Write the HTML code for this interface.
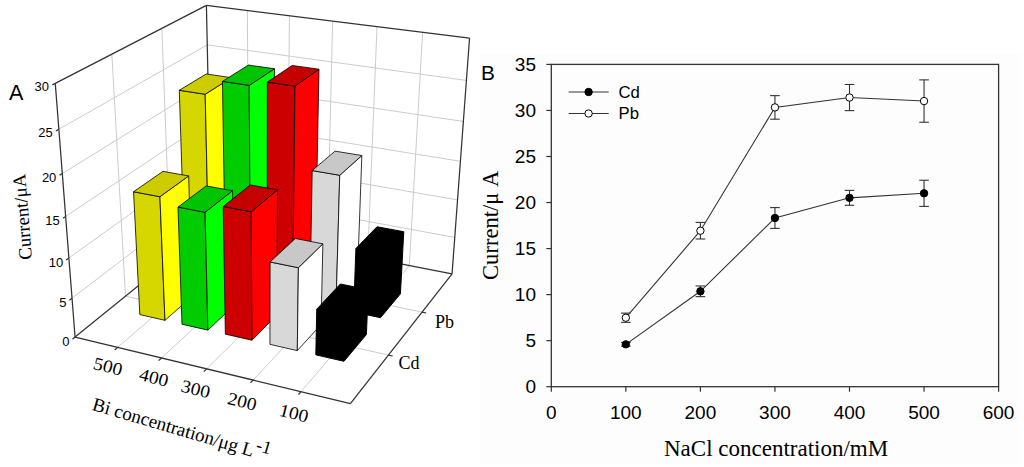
<!DOCTYPE html>
<html><head><meta charset="utf-8"><style>html,body{margin:0;padding:0;background:#fff;overflow:hidden}svg{display:block}text{fill:#000}</style></head>
<body><svg width="1024" height="467" viewBox="0 0 1024 467">
<rect width="1024" height="467" fill="#fff"/>
<rect x="479.4" y="53.5" width="540.4" height="409.8" fill="#fdfdfd"/>
<rect x="551.3" y="64.4" width="447.30" height="322.30" fill="none" stroke="#333" stroke-width="1.3"/>
<line x1="546.30" y1="386.70" x2="551.30" y2="386.70" stroke="#333" stroke-width="1.2"/>
<text x="536" y="386.70" font-family="Liberation Sans, sans-serif" font-size="19" text-anchor="end" dominant-baseline="central">0</text>
<line x1="546.30" y1="340.66" x2="551.30" y2="340.66" stroke="#333" stroke-width="1.2"/>
<text x="536" y="340.66" font-family="Liberation Sans, sans-serif" font-size="19" text-anchor="end" dominant-baseline="central">5</text>
<line x1="546.30" y1="294.61" x2="551.30" y2="294.61" stroke="#333" stroke-width="1.2"/>
<text x="536" y="294.61" font-family="Liberation Sans, sans-serif" font-size="19" text-anchor="end" dominant-baseline="central">10</text>
<line x1="546.30" y1="248.57" x2="551.30" y2="248.57" stroke="#333" stroke-width="1.2"/>
<text x="536" y="248.57" font-family="Liberation Sans, sans-serif" font-size="19" text-anchor="end" dominant-baseline="central">15</text>
<line x1="546.30" y1="202.53" x2="551.30" y2="202.53" stroke="#333" stroke-width="1.2"/>
<text x="536" y="202.53" font-family="Liberation Sans, sans-serif" font-size="19" text-anchor="end" dominant-baseline="central">20</text>
<line x1="546.30" y1="156.49" x2="551.30" y2="156.49" stroke="#333" stroke-width="1.2"/>
<text x="536" y="156.49" font-family="Liberation Sans, sans-serif" font-size="19" text-anchor="end" dominant-baseline="central">25</text>
<line x1="546.30" y1="110.44" x2="551.30" y2="110.44" stroke="#333" stroke-width="1.2"/>
<text x="536" y="110.44" font-family="Liberation Sans, sans-serif" font-size="19" text-anchor="end" dominant-baseline="central">30</text>
<line x1="546.30" y1="64.40" x2="551.30" y2="64.40" stroke="#333" stroke-width="1.2"/>
<text x="536" y="64.40" font-family="Liberation Sans, sans-serif" font-size="19" text-anchor="end" dominant-baseline="central">35</text>
<line x1="551.30" y1="386.70" x2="551.30" y2="391.70" stroke="#333" stroke-width="1.2"/>
<text x="551.30" y="419.3" font-family="Liberation Sans, sans-serif" font-size="19" text-anchor="middle">0</text>
<line x1="625.85" y1="386.70" x2="625.85" y2="391.70" stroke="#333" stroke-width="1.2"/>
<text x="625.85" y="419.3" font-family="Liberation Sans, sans-serif" font-size="19" text-anchor="middle">100</text>
<line x1="700.40" y1="386.70" x2="700.40" y2="391.70" stroke="#333" stroke-width="1.2"/>
<text x="700.40" y="419.3" font-family="Liberation Sans, sans-serif" font-size="19" text-anchor="middle">200</text>
<line x1="774.95" y1="386.70" x2="774.95" y2="391.70" stroke="#333" stroke-width="1.2"/>
<text x="774.95" y="419.3" font-family="Liberation Sans, sans-serif" font-size="19" text-anchor="middle">300</text>
<line x1="849.50" y1="386.70" x2="849.50" y2="391.70" stroke="#333" stroke-width="1.2"/>
<text x="849.50" y="419.3" font-family="Liberation Sans, sans-serif" font-size="19" text-anchor="middle">400</text>
<line x1="924.05" y1="386.70" x2="924.05" y2="391.70" stroke="#333" stroke-width="1.2"/>
<text x="924.05" y="419.3" font-family="Liberation Sans, sans-serif" font-size="19" text-anchor="middle">500</text>
<line x1="998.60" y1="386.70" x2="998.60" y2="391.70" stroke="#333" stroke-width="1.2"/>
<text x="998.60" y="419.3" font-family="Liberation Sans, sans-serif" font-size="19" text-anchor="middle">600</text>
<polyline points="625.85,344.34 700.40,291.30 774.95,218.00 849.50,197.83 924.05,193.32" fill="none" stroke="#333" stroke-width="1.1"/>
<polyline points="625.85,317.73 700.40,230.71 774.95,107.40 849.50,97.55 924.05,101.05" fill="none" stroke="#333" stroke-width="1.1"/>
<line x1="625.85" y1="342.50" x2="625.85" y2="346.18" stroke="#333" stroke-width="1.1"/>
<line x1="621.05" y1="342.50" x2="630.65" y2="342.50" stroke="#333" stroke-width="1.1"/>
<line x1="621.05" y1="346.18" x2="630.65" y2="346.18" stroke="#333" stroke-width="1.1"/>
<circle cx="625.85" cy="344.34" r="3.7" fill="#000" stroke="#000" stroke-width="1"/>
<line x1="700.40" y1="285.96" x2="700.40" y2="296.64" stroke="#333" stroke-width="1.1"/>
<line x1="695.60" y1="285.96" x2="705.20" y2="285.96" stroke="#333" stroke-width="1.1"/>
<line x1="695.60" y1="296.64" x2="705.20" y2="296.64" stroke="#333" stroke-width="1.1"/>
<circle cx="700.40" cy="291.30" r="3.7" fill="#000" stroke="#000" stroke-width="1"/>
<line x1="774.95" y1="207.59" x2="774.95" y2="228.40" stroke="#333" stroke-width="1.1"/>
<line x1="770.15" y1="207.59" x2="779.75" y2="207.59" stroke="#333" stroke-width="1.1"/>
<line x1="770.15" y1="228.40" x2="779.75" y2="228.40" stroke="#333" stroke-width="1.1"/>
<circle cx="774.95" cy="218.00" r="3.7" fill="#000" stroke="#000" stroke-width="1"/>
<line x1="849.50" y1="190.37" x2="849.50" y2="205.29" stroke="#333" stroke-width="1.1"/>
<line x1="844.70" y1="190.37" x2="854.30" y2="190.37" stroke="#333" stroke-width="1.1"/>
<line x1="844.70" y1="205.29" x2="854.30" y2="205.29" stroke="#333" stroke-width="1.1"/>
<circle cx="849.50" cy="197.83" r="3.7" fill="#000" stroke="#000" stroke-width="1"/>
<line x1="924.05" y1="180.24" x2="924.05" y2="206.40" stroke="#333" stroke-width="1.1"/>
<line x1="919.25" y1="180.24" x2="928.85" y2="180.24" stroke="#333" stroke-width="1.1"/>
<line x1="919.25" y1="206.40" x2="928.85" y2="206.40" stroke="#333" stroke-width="1.1"/>
<circle cx="924.05" cy="193.32" r="3.7" fill="#000" stroke="#000" stroke-width="1"/>
<line x1="625.85" y1="313.12" x2="625.85" y2="322.33" stroke="#333" stroke-width="1.1"/>
<line x1="621.05" y1="313.12" x2="630.65" y2="313.12" stroke="#333" stroke-width="1.1"/>
<line x1="621.05" y1="322.33" x2="630.65" y2="322.33" stroke="#333" stroke-width="1.1"/>
<circle cx="625.85" cy="317.73" r="3.7" fill="#fff" stroke="#000" stroke-width="1"/>
<line x1="700.40" y1="222.42" x2="700.40" y2="238.99" stroke="#333" stroke-width="1.1"/>
<line x1="695.60" y1="222.42" x2="705.20" y2="222.42" stroke="#333" stroke-width="1.1"/>
<line x1="695.60" y1="238.99" x2="705.20" y2="238.99" stroke="#333" stroke-width="1.1"/>
<circle cx="700.40" cy="230.71" r="3.7" fill="#fff" stroke="#000" stroke-width="1"/>
<line x1="774.95" y1="95.62" x2="774.95" y2="119.19" stroke="#333" stroke-width="1.1"/>
<line x1="770.15" y1="95.62" x2="779.75" y2="95.62" stroke="#333" stroke-width="1.1"/>
<line x1="770.15" y1="119.19" x2="779.75" y2="119.19" stroke="#333" stroke-width="1.1"/>
<circle cx="774.95" cy="107.40" r="3.7" fill="#fff" stroke="#000" stroke-width="1"/>
<line x1="849.50" y1="84.47" x2="849.50" y2="110.63" stroke="#333" stroke-width="1.1"/>
<line x1="844.70" y1="84.47" x2="854.30" y2="84.47" stroke="#333" stroke-width="1.1"/>
<line x1="844.70" y1="110.63" x2="854.30" y2="110.63" stroke="#333" stroke-width="1.1"/>
<circle cx="849.50" cy="97.55" r="3.7" fill="#fff" stroke="#000" stroke-width="1"/>
<line x1="924.05" y1="79.87" x2="924.05" y2="122.23" stroke="#333" stroke-width="1.1"/>
<line x1="919.25" y1="79.87" x2="928.85" y2="79.87" stroke="#333" stroke-width="1.1"/>
<line x1="919.25" y1="122.23" x2="928.85" y2="122.23" stroke="#333" stroke-width="1.1"/>
<circle cx="924.05" cy="101.05" r="3.7" fill="#fff" stroke="#000" stroke-width="1"/>
<line x1="568.70" y1="92.00" x2="608.70" y2="92.00" stroke="#333" stroke-width="1.1"/>
<circle cx="588.6" cy="92.0" r="3.7" fill="#000" stroke="#000" stroke-width="1"/>
<text x="618.5" y="92.0" font-family="Liberation Sans, sans-serif" font-size="16.7" dominant-baseline="central">Cd</text>
<line x1="568.70" y1="113.50" x2="608.70" y2="113.50" stroke="#333" stroke-width="1.1"/>
<circle cx="588.6" cy="113.5" r="3.7" fill="#fff" stroke="#000" stroke-width="1"/>
<text x="618.5" y="113.5" font-family="Liberation Sans, sans-serif" font-size="16.7" dominant-baseline="central">Pb</text>
<text x="481" y="80" font-family="Liberation Sans, sans-serif" font-size="20.8">B</text>
<text x="0" y="0" font-family="Liberation Serif, serif" font-size="22.6" text-anchor="middle" transform="translate(498 225.3) rotate(-90)">Current/μ A</text>
<text x="664" y="455.8" font-family="Liberation Serif, serif" font-size="23">NaCl concentration/mM</text>
<line x1="248.86" y1="234.19" x2="247.36" y2="10.43" stroke="#c8c8c8" stroke-width="0.95"/>
<line x1="287.50" y1="241.74" x2="289.43" y2="15.67" stroke="#c8c8c8" stroke-width="0.95"/>
<line x1="327.10" y1="249.48" x2="332.63" y2="21.04" stroke="#c8c8c8" stroke-width="0.95"/>
<line x1="367.70" y1="257.41" x2="377.02" y2="26.56" stroke="#c8c8c8" stroke-width="0.95"/>
<line x1="409.34" y1="265.55" x2="422.64" y2="32.24" stroke="#c8c8c8" stroke-width="0.95"/>
<line x1="210.40" y1="192.39" x2="454.76" y2="237.45" stroke="#c8c8c8" stroke-width="0.95"/>
<line x1="209.64" y1="157.02" x2="457.54" y2="199.92" stroke="#c8c8c8" stroke-width="0.95"/>
<line x1="208.87" y1="120.68" x2="460.41" y2="161.28" stroke="#c8c8c8" stroke-width="0.95"/>
<line x1="208.07" y1="83.31" x2="463.37" y2="121.46" stroke="#c8c8c8" stroke-width="0.95"/>
<line x1="207.24" y1="44.88" x2="466.41" y2="80.41" stroke="#c8c8c8" stroke-width="0.95"/>
<line x1="125.51" y1="296.19" x2="111.85" y2="54.15" stroke="#c8c8c8" stroke-width="0.95"/>
<line x1="170.60" y1="259.66" x2="161.87" y2="28.33" stroke="#c8c8c8" stroke-width="0.95"/>
<line x1="72.02" y1="298.16" x2="210.40" y2="192.39" stroke="#c8c8c8" stroke-width="0.95"/>
<line x1="68.88" y1="257.98" x2="209.64" y2="157.02" stroke="#c8c8c8" stroke-width="0.95"/>
<line x1="65.65" y1="216.48" x2="208.87" y2="120.68" stroke="#c8c8c8" stroke-width="0.95"/>
<line x1="62.30" y1="173.59" x2="208.07" y2="83.31" stroke="#c8c8c8" stroke-width="0.95"/>
<line x1="58.84" y1="129.25" x2="207.24" y2="44.88" stroke="#c8c8c8" stroke-width="0.95"/>
<line x1="117.66" y1="347.36" x2="248.86" y2="234.19" stroke="#c8c8c8" stroke-width="0.95"/>
<line x1="161.50" y1="357.94" x2="287.50" y2="241.74" stroke="#c8c8c8" stroke-width="0.95"/>
<line x1="206.63" y1="368.84" x2="327.10" y2="249.48" stroke="#c8c8c8" stroke-width="0.95"/>
<line x1="253.11" y1="380.06" x2="367.70" y2="257.41" stroke="#c8c8c8" stroke-width="0.95"/>
<line x1="301.01" y1="391.62" x2="409.34" y2="265.55" stroke="#c8c8c8" stroke-width="0.95"/>
<line x1="125.51" y1="296.19" x2="388.41" y2="355.05" stroke="#c8c8c8" stroke-width="0.95"/>
<line x1="170.60" y1="259.66" x2="422.06" y2="312.14" stroke="#c8c8c8" stroke-width="0.95"/>
<line x1="75.06" y1="337.07" x2="55.26" y2="83.37" stroke="#333" stroke-width="1.25"/>
<line x1="55.26" y1="83.37" x2="206.40" y2="5.34" stroke="#333" stroke-width="1.25"/>
<line x1="211.14" y1="226.82" x2="206.40" y2="5.34" stroke="#333" stroke-width="1.25"/>
<line x1="75.06" y1="337.07" x2="211.14" y2="226.82" stroke="#333" stroke-width="1.25"/>
<line x1="206.40" y1="5.34" x2="469.56" y2="38.07" stroke="#333" stroke-width="1.25"/>
<line x1="452.05" y1="273.90" x2="469.56" y2="38.07" stroke="#333" stroke-width="1.25"/>
<line x1="211.14" y1="226.82" x2="452.05" y2="273.90" stroke="#333" stroke-width="1.25"/>
<line x1="75.06" y1="337.07" x2="350.38" y2="403.54" stroke="#333" stroke-width="1.25"/>
<line x1="350.38" y1="403.54" x2="452.05" y2="273.90" stroke="#333" stroke-width="1.25"/>
<line x1="75.06" y1="337.07" x2="72.48" y2="339.16" stroke="#333" stroke-width="1.25"/>
<line x1="72.02" y1="298.16" x2="69.40" y2="300.16" stroke="#333" stroke-width="1.25"/>
<line x1="68.88" y1="257.98" x2="66.21" y2="259.90" stroke="#333" stroke-width="1.25"/>
<line x1="65.65" y1="216.48" x2="62.92" y2="218.31" stroke="#333" stroke-width="1.25"/>
<line x1="62.30" y1="173.59" x2="59.52" y2="175.32" stroke="#333" stroke-width="1.25"/>
<line x1="58.84" y1="129.25" x2="56.00" y2="130.87" stroke="#333" stroke-width="1.25"/>
<line x1="55.26" y1="83.37" x2="52.36" y2="84.87" stroke="#333" stroke-width="1.25"/>
<line x1="117.66" y1="347.36" x2="114.67" y2="349.93" stroke="#333" stroke-width="1.25"/>
<line x1="161.50" y1="357.94" x2="158.62" y2="360.59" stroke="#333" stroke-width="1.25"/>
<line x1="206.63" y1="368.84" x2="203.87" y2="371.57" stroke="#333" stroke-width="1.25"/>
<line x1="253.11" y1="380.06" x2="250.48" y2="382.87" stroke="#333" stroke-width="1.25"/>
<line x1="301.01" y1="391.62" x2="298.52" y2="394.52" stroke="#333" stroke-width="1.25"/>
<line x1="388.41" y1="355.05" x2="392.70" y2="356.01" stroke="#333" stroke-width="1.25"/>
<line x1="422.06" y1="312.14" x2="426.15" y2="312.99" stroke="#333" stroke-width="1.25"/>
<polygon points="185.28,276.10 209.41,281.24 205.19,94.26 179.30,90.29" fill="#d6d600" stroke="#000" stroke-width="0.8" stroke-linejoin="round"/>
<polygon points="209.41,281.24 233.80,259.79 231.48,77.66 205.19,94.26" fill="#ffff00" stroke="#000" stroke-width="0.8" stroke-linejoin="round"/>
<polygon points="179.30,90.29 205.19,94.26 231.48,77.66 206.26,73.96" fill="#cccc00" stroke="#000" stroke-width="0.8" stroke-linejoin="round"/>
<polygon points="225.71,284.72 250.48,289.99 249.22,85.36 222.44,81.39" fill="#00cc00" stroke="#000" stroke-width="0.8" stroke-linejoin="round"/>
<polygon points="250.48,289.99 273.85,267.99 274.49,68.75 249.22,85.36" fill="#00ff00" stroke="#000" stroke-width="0.8" stroke-linejoin="round"/>
<polygon points="222.44,81.39 249.22,85.36 274.49,68.75 248.43,65.06" fill="#00c400" stroke="#000" stroke-width="0.8" stroke-linejoin="round"/>
<polygon points="267.22,293.56 292.66,298.98 294.96,86.14 267.34,82.10" fill="#cc0000" stroke="#000" stroke-width="0.8" stroke-linejoin="round"/>
<polygon points="292.66,298.98 314.95,276.39 319.01,69.23 294.96,86.14" fill="#ff0000" stroke="#000" stroke-width="0.8" stroke-linejoin="round"/>
<polygon points="267.34,82.10 294.96,86.14 319.01,69.23 292.16,65.47" fill="#c40000" stroke="#000" stroke-width="0.8" stroke-linejoin="round"/>
<polygon points="309.85,302.64 335.98,308.21 339.74,175.29 312.19,170.56" fill="#d8d8d8" stroke="#000" stroke-width="0.8" stroke-linejoin="round"/>
<polygon points="335.98,308.21 357.12,285.02 361.85,155.54 339.74,175.29" fill="#ffffff" stroke="#000" stroke-width="0.8" stroke-linejoin="round"/>
<polygon points="312.19,170.56 339.74,175.29 361.85,155.54 335.07,151.13" fill="#c8c8c8" stroke="#000" stroke-width="0.8" stroke-linejoin="round"/>
<polygon points="353.63,311.97 380.49,317.69 400.42,293.87 403.78,231.72 376.99,226.75 355.89,248.60" fill="#000" stroke="#000" stroke-width="1.0" stroke-linejoin="round"/>
<polygon points="139.82,314.57 164.98,320.33 159.92,196.74 133.55,191.76" fill="#d6d600" stroke="#000" stroke-width="0.8" stroke-linejoin="round"/>
<polygon points="164.98,320.33 192.24,296.35 188.67,175.98 159.92,196.74" fill="#ffff00" stroke="#000" stroke-width="0.8" stroke-linejoin="round"/>
<polygon points="133.55,191.76 159.92,196.74 188.67,175.98 162.99,171.34" fill="#cccc00" stroke="#000" stroke-width="0.8" stroke-linejoin="round"/>
<polygon points="181.99,324.22 207.86,330.14 205.07,212.28 177.99,207.11" fill="#00cc00" stroke="#000" stroke-width="0.8" stroke-linejoin="round"/>
<polygon points="207.86,330.14 234.02,305.50 232.54,190.72 205.07,212.28" fill="#00ff00" stroke="#000" stroke-width="0.8" stroke-linejoin="round"/>
<polygon points="177.99,207.11 205.07,212.28 232.54,190.72 206.19,185.91" fill="#00c400" stroke="#000" stroke-width="0.8" stroke-linejoin="round"/>
<polygon points="225.35,334.14 251.95,340.23 251.22,211.77 223.23,206.51" fill="#cc0000" stroke="#000" stroke-width="0.8" stroke-linejoin="round"/>
<polygon points="251.95,340.23 276.94,314.91 277.50,189.85 251.22,211.77" fill="#ff0000" stroke="#000" stroke-width="0.8" stroke-linejoin="round"/>
<polygon points="223.23,206.51 251.22,211.77 277.50,189.85 250.30,184.96" fill="#c40000" stroke="#000" stroke-width="0.8" stroke-linejoin="round"/>
<polygon points="269.94,344.35 297.31,350.61 298.38,267.72 270.08,261.98" fill="#d8d8d8" stroke="#000" stroke-width="0.8" stroke-linejoin="round"/>
<polygon points="297.31,350.61 321.05,324.57 322.87,243.83 298.38,267.72" fill="#ffffff" stroke="#000" stroke-width="0.8" stroke-linejoin="round"/>
<polygon points="270.08,261.98 298.38,267.72 322.87,243.83 295.37,238.50" fill="#c8c8c8" stroke="#000" stroke-width="0.8" stroke-linejoin="round"/>
<polygon points="315.82,354.85 344.00,361.30 366.41,334.51 368.25,289.72 340.37,283.99 316.76,309.16" fill="#000" stroke="#000" stroke-width="1.0" stroke-linejoin="round"/>
<text x="69.57" y="341.52" font-family="Liberation Sans, sans-serif" font-size="13" text-anchor="end" dominant-baseline="central">0</text>
<text x="66.43" y="302.43" font-family="Liberation Sans, sans-serif" font-size="13" text-anchor="end" dominant-baseline="central">5</text>
<text x="63.18" y="262.07" font-family="Liberation Sans, sans-serif" font-size="13" text-anchor="end" dominant-baseline="central">10</text>
<text x="59.83" y="220.37" font-family="Liberation Sans, sans-serif" font-size="13" text-anchor="end" dominant-baseline="central">15</text>
<text x="56.36" y="177.27" font-family="Liberation Sans, sans-serif" font-size="13" text-anchor="end" dominant-baseline="central">20</text>
<text x="52.78" y="132.70" font-family="Liberation Sans, sans-serif" font-size="13" text-anchor="end" dominant-baseline="central">25</text>
<text x="49.07" y="86.57" font-family="Liberation Sans, sans-serif" font-size="13" text-anchor="end" dominant-baseline="central">30</text>
<text x="108" y="366.2" font-family="Liberation Serif, serif" font-size="19.5" text-anchor="middle" dominant-baseline="central" transform="translate(108 366.2) rotate(14) scale(1 0.92) translate(-108 -366.2)">500</text>
<text x="154" y="377.3" font-family="Liberation Serif, serif" font-size="19.5" text-anchor="middle" dominant-baseline="central" transform="translate(154 377.3) rotate(14) scale(1 0.92) translate(-154 -377.3)">400</text>
<text x="195.8" y="388.8" font-family="Liberation Serif, serif" font-size="19.5" text-anchor="middle" dominant-baseline="central" transform="translate(195.8 388.8) rotate(14) scale(1 0.92) translate(-195.8 -388.8)">300</text>
<text x="242.2" y="401.2" font-family="Liberation Serif, serif" font-size="19.5" text-anchor="middle" dominant-baseline="central" transform="translate(242.2 401.2) rotate(14) scale(1 0.92) translate(-242.2 -401.2)">200</text>
<text x="294" y="413" font-family="Liberation Serif, serif" font-size="19.5" text-anchor="middle" dominant-baseline="central" transform="translate(294 413) rotate(14) scale(1 0.92) translate(-294 -413)">100</text>
<text x="398.5" y="369.4" font-family="Liberation Serif, serif" font-size="18">Cd</text>
<text x="435" y="327.8" font-family="Liberation Serif, serif" font-size="18">Pb</text>
<text x="0" y="0" font-family="Liberation Serif, serif" font-size="18.7" text-anchor="middle" transform="translate(28.6 216.4) rotate(-94.7)">Current/μA</text>
<text x="0" y="0" font-family="Liberation Serif, serif" font-size="19" transform="translate(91.3 409.8) rotate(16.3)">Bi concentration/μg L<tspan font-size="18.5" dx="1" dy="-7">-1</tspan></text>
<text x="9" y="99.8" font-family="Liberation Sans, sans-serif" font-size="21.5">A</text>
</svg></body></html>
